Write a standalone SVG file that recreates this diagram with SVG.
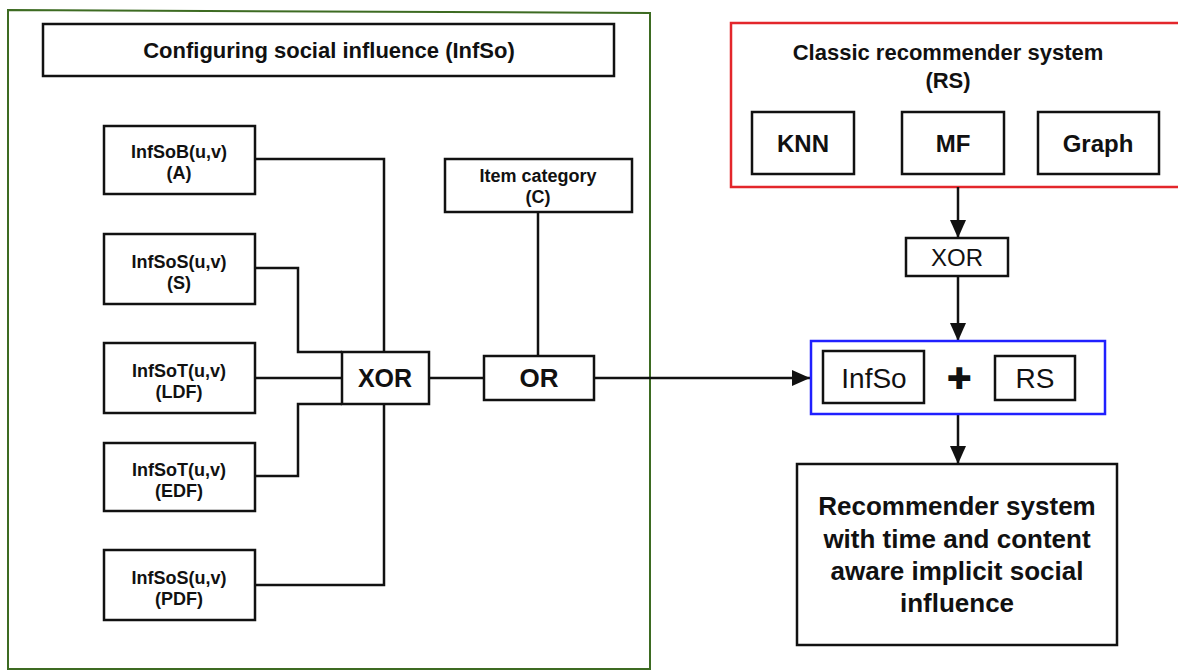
<svg xmlns="http://www.w3.org/2000/svg" width="1178" height="672" viewBox="0 0 1178 672">
<style>
.box{fill:#fff;stroke:#111;stroke-width:2.5}
.ln{fill:none;stroke:#111;stroke-width:2.5}
.t{font-family:"Liberation Sans",Arial,sans-serif;fill:#111;text-anchor:middle}
.b{font-weight:bold}
</style>
<defs>
<marker id="arr" markerWidth="18" markerHeight="16" refX="18" refY="8" orient="auto" markerUnits="userSpaceOnUse">
<path d="M0,0 L18,8 L0,16 Z" fill="#111"/>
</marker>
</defs>
<rect width="1178" height="672" fill="#fff"/>
<g id="frame-infso">
<path d="M8,10 L650,13 L650,669 L8,669 Z" fill="none" stroke="#3d6b22" stroke-width="2"/>
</g>
<g id="frame-rs">
<rect x="731" y="23" width="460" height="164" fill="none" stroke="#e3262b" stroke-width="2.5"/>
</g>
<g id="connectors">
<path class="ln" d="M254,159 H384 V352"/>
<path class="ln" d="M254,268 H298 V352 H342"/>
<path class="ln" d="M254,378 H342"/>
<path class="ln" d="M254,476 H298 V404 H342"/>
<path class="ln" d="M254,585 H384 V404"/>
<path class="ln" d="M429,378 H484"/>
<path class="ln" d="M538,212 V356"/>
<path class="ln" d="M594,378 H810" marker-end="url(#arr)"/>
<path class="ln" d="M958,187 V238" marker-end="url(#arr)"/>
<path class="ln" d="M958,276 V341" marker-end="url(#arr)"/>
<path class="ln" d="M958,414 V464" marker-end="url(#arr)"/>
</g>
<g id="title-infso">
<rect class="box" x="43" y="24" width="571" height="52"/>
<text class="t b" x="329" y="58" font-size="22">Configuring social influence (InfSo)</text>
</g>
<g id="node-a">
<rect class="box" x="104" y="126" width="151" height="68"/>
<text class="t b" x="179" y="158" font-size="18">InfSoB(u,v)</text>
<text class="t b" x="179" y="179" font-size="18">(A)</text>
</g>
<g id="node-s">
<rect class="box" x="104" y="234" width="151" height="70"/>
<text class="t b" x="179" y="268" font-size="18">InfSoS(u,v)</text>
<text class="t b" x="179" y="289" font-size="18">(S)</text>
</g>
<g id="node-ldf">
<rect class="box" x="104" y="343" width="151" height="70"/>
<text class="t b" x="179" y="377" font-size="18">InfSoT(u,v)</text>
<text class="t b" x="179" y="398" font-size="18">(LDF)</text>
</g>
<g id="node-edf">
<rect class="box" x="104" y="443" width="151" height="68"/>
<text class="t b" x="179" y="476" font-size="18">InfSoT(u,v)</text>
<text class="t b" x="179" y="497" font-size="18">(EDF)</text>
</g>
<g id="node-pdf">
<rect class="box" x="104" y="550" width="151" height="70"/>
<text class="t b" x="179" y="584" font-size="18">InfSoS(u,v)</text>
<text class="t b" x="179" y="605" font-size="18">(PDF)</text>
</g>
<g id="node-xor1">
<rect class="box" x="342" y="352" width="87" height="52"/>
<text class="t b" x="385" y="387" font-size="25">XOR</text>
</g>
<g id="node-item">
<rect class="box" x="445" y="159" width="187" height="53"/>
<text class="t b" x="538" y="182" font-size="18">Item category</text>
<text class="t b" x="538" y="203" font-size="18">(C)</text>
</g>
<g id="node-or">
<rect class="box" x="484" y="356" width="110" height="44"/>
<text class="t b" x="539" y="387" font-size="26">OR</text>
</g>
<g id="title-rs">
<text class="t b" x="948" y="60" font-size="22">Classic recommender system</text>
<text class="t b" x="948" y="88" font-size="22">(RS)</text>
</g>
<g id="node-knn">
<rect class="box" x="752" y="112" width="102" height="62"/>
<text class="t b" x="803" y="152" font-size="24">KNN</text>
</g>
<g id="node-mf">
<rect class="box" x="902" y="112" width="102" height="62"/>
<text class="t b" x="953" y="152" font-size="24">MF</text>
</g>
<g id="node-graph">
<rect class="box" x="1038" y="112" width="121" height="62"/>
<text class="t b" x="1098" y="152" font-size="24">Graph</text>
</g>
<g id="node-xor2">
<rect class="box" x="906" y="238" width="102" height="38"/>
<text class="t" x="957" y="266" font-size="24">XOR</text>
</g>
<g id="node-combine">
<rect x="811" y="341" width="294" height="73" fill="#fff" stroke="#2020ff" stroke-width="2.5"/>
<rect class="box" x="823" y="351" width="101" height="52"/>
<text class="t" x="874" y="388" font-size="28">InfSo</text>
<text class="t b" x="959" y="389" font-size="30" style="font-family:'DejaVu Sans',sans-serif">✚</text>
<rect class="box" x="995" y="356" width="80" height="44"/>
<text class="t" x="1035" y="388" font-size="28">RS</text>
</g>
<g id="node-result">
<rect class="box" x="797" y="464" width="320" height="181"/>
<text class="t b" x="957" y="515" font-size="26">Recommender system</text>
<text class="t b" x="957" y="548" font-size="26">with time and content</text>
<text class="t b" x="957" y="580" font-size="26">aware implicit social</text>
<text class="t b" x="957" y="612" font-size="26">influence</text>
</g>
</svg>
